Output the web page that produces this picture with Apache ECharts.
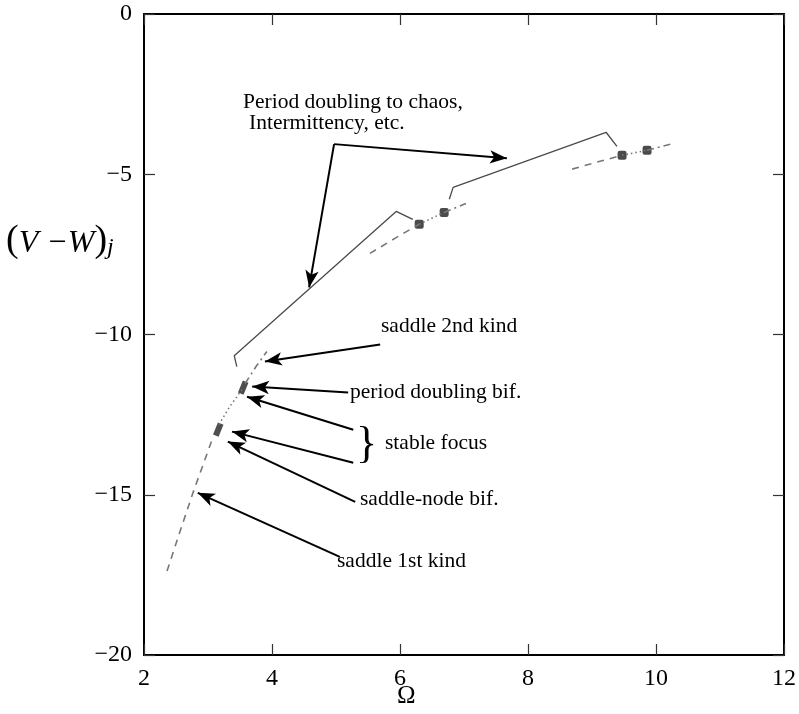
<!DOCTYPE html>
<html>
<head>
<meta charset="utf-8">
<script src="https://cdn.jsdelivr.net/npm/echarts@6/dist/echarts.min.js"></script>
<style>html,body{margin:0;padding:0;background:#fff;}#c{width:799px;height:714px;}</style>
</head>
<body>
<div id="c"></div>
<script>
// ---- data (Omega, (V-W)_j) ----
const xTicks = [2, 4, 6, 8, 10, 12];
const yTicks = [0, -5, -10, -15, -20];
const saddle1st   = [[2.36,-17.38],[2.56,-16.16],[2.77,-14.91],[2.94,-13.97],[3.08,-13.19]];
const stableFocus = [[3.17,-12.81],[3.34,-12.25],[3.53,-11.72]];
const saddle2nd   = [[3.58,-11.53],[3.75,-11.0],[3.92,-10.53]];
const bifMarkers1 = [[3.16,-12.97],[3.55,-11.66]];
const chaos1      = [[3.45,-11.0],[3.41,-10.66],[5.94,-6.16],[6.20,-6.41]];
const dashed2     = [[5.53,-7.47],[5.92,-7.0],[6.30,-6.56]];
const dotted2     = [[6.30,-6.56],[6.69,-6.19]];
const dashdot2    = [[6.69,-6.19],[7.03,-5.91]];
const markers2    = [[6.30,-6.56],[6.69,-6.19]];
const chaos2      = [[6.77,-5.78],[6.83,-5.41],[9.22,-3.69],[9.39,-4.13]];
const dashed3     = [[8.69,-4.84],[9.08,-4.62],[9.47,-4.41]];
const dotted3     = [[9.47,-4.41],[9.86,-4.25]];
const dashdot3    = [[9.86,-4.25],[10.23,-4.06]];
const markers3    = [[9.47,-4.41],[9.86,-4.25]];
// annotation arrows: [tail, tip]
const arrows = [
  [[4.97,-4.06],[7.67,-4.50]],
  [[4.97,-4.06],[4.58,-8.53]],
  [[5.69,-10.31],[3.89,-10.84]],
  [[5.19,-11.81],[3.69,-11.62]],
  [[5.27,-12.97],[3.61,-11.94]],
  [[5.27,-14.00],[3.375,-13.03]],
  [[5.30,-15.22],[3.31,-13.34]],
  [[5.06,-16.94],[2.84,-14.94]]
];

const FONT = '"Liberation Serif", "DejaVu Serif", serif';
const GREY = '#666';
function line(data, type, color, width) {
  return { type: 'line', data: data, symbol: 'none', silent: true,
    lineStyle: { color: color || GREY, width: width || 1.5, type: type } };
}
const chart = echarts.init(document.getElementById('c'), null, { renderer: 'canvas' });
const axisCommon = {
  type: 'value', splitLine: { show: false },
  axisLine: { show: true, onZero: false, lineStyle: { color: '#000', width: 2 } },
  axisTick: { show: true, inside: true, length: 11, lineStyle: { color: '#333', width: 1.2 } }
};
const option = {
  animation: false,
  backgroundColor: '#fff',
  grid: { left: 144, right: 14, top: 14, bottom: 59 },
  xAxis: [
    Object.assign({}, axisCommon, { min: 2, max: 12, interval: 2, position: 'bottom',
      axisLabel: { color: '#000', fontFamily: FONT, fontSize: 24, margin: 12,
        formatter: v => xTicks.includes(v) ? String(v) : '' } }),
    Object.assign({}, axisCommon, { min: 2, max: 12, interval: 2, position: 'top', axisLabel: { show: false } })
  ],
  yAxis: [
    Object.assign({}, axisCommon, { min: -20, max: 0, interval: 5, position: 'left',
      axisLabel: { color: '#000', fontFamily: FONT, fontSize: 24, margin: 12,
        formatter: v => yTicks.includes(v) ? String(v).replace('-', '\u2212') : '' } }),
    Object.assign({}, axisCommon, { min: -20, max: 0, interval: 5, position: 'right', axisLabel: { show: false } })
  ],
  series: [
    line(saddle1st, [7, 6], '#777', 1.6),
    line(stableFocus, [1.5, 3], '#777', 1.6),
    line(saddle2nd, [7, 4, 2, 4], '#777', 1.6),
    line(chaos1, 'solid', '#4a4a4a', 1.3),
    line(dashed2, [7, 6], '#777', 1.6),
    line(dotted2, [1.5, 3], '#777', 1.6),
    line(dashdot2, [7, 4, 2, 4], '#777', 1.6),
    line(chaos2, 'solid', '#4a4a4a', 1.3),
    line(dashed3, [7, 6], '#777', 1.6),
    line(dotted3, [1.5, 3], '#777', 1.6),
    line(dashdot3, [7, 4, 2, 4], '#777', 1.6),
    { type: 'scatter', data: bifMarkers1, symbol: 'rect', symbolSize: [6, 13], symbolRotate: -22,
      itemStyle: { color: '#222' }, silent: true },
    { type: 'scatter', data: markers2.concat(markers3), symbol: 'roundRect', symbolSize: 9,
      itemStyle: { color: '#1e1e1e' }, silent: true },
    { type: 'line', data: [], silent: true,
      markLine: { silent: true, symbol: ['none', 'arrow'], symbolSize: [10, 17],
        label: { show: false },
        lineStyle: { color: '#000', width: 2, type: 'solid' },
        data: arrows.map(a => [{ coord: a[0] }, { coord: a[1] }]) } }
  ],
  graphic: [
    { type: 'text', left: 243, top: 91, style: { text: 'Period doubling to chaos,', font: '21.5px ' + FONT, fill: '#000' } },
    { type: 'text', left: 249, top: 112, style: { text: 'Intermittency, etc.', font: '21.5px ' + FONT, fill: '#000' } },
    { type: 'text', left: 381, top: 315, style: { text: 'saddle 2nd kind', font: '21.5px ' + FONT, fill: '#000' } },
    { type: 'text', left: 350, top: 381, style: { text: 'period doubling bif.', font: '21.5px ' + FONT, fill: '#000' } },
    { type: 'text', left: 356, top: 423, style: { text: '}', font: '44px ' + FONT, fill: '#000' } },
    { type: 'text', left: 385, top: 432, style: { text: 'stable focus', font: '21.5px ' + FONT, fill: '#000' } },
    { type: 'text', left: 360, top: 488, style: { text: 'saddle-node bif.', font: '21.5px ' + FONT, fill: '#000' } },
    { type: 'text', left: 337, top: 550, style: { text: 'saddle 1st kind', font: '21.5px ' + FONT, fill: '#000' } },
    { type: 'text', left: 397, top: 684, style: { text: '\u03A9', font: '25px ' + FONT, fill: '#000' } },
    { type: 'text', left: 6, top: 222, style: {
        text: '{p|(}{v|V \u2212W}{p|)}{s|j}',
        rich: {
          p: { font: '38px ' + FONT, fill: '#000', verticalAlign: 'bottom' },
          v: { font: 'italic 32px ' + FONT, fill: '#000', verticalAlign: 'bottom' },
          s: { font: 'italic 24px ' + FONT, fill: '#000', padding: [18, 0, 0, 0], verticalAlign: 'bottom' }
        } } }
  ]
};
chart.setOption(option);
</script>
</body>
</html>
